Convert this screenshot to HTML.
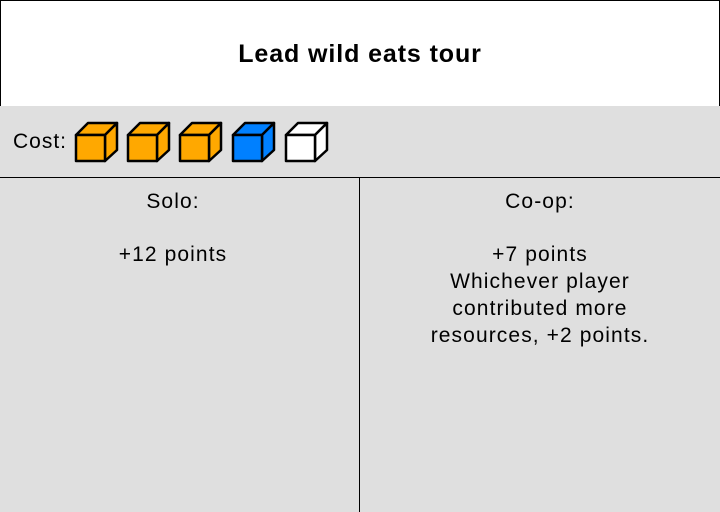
<!DOCTYPE html>
<html><head><meta charset="utf-8"><style>
body{margin:0;width:720px;height:512px;background:#dfdfdf;font-family:"Liberation Sans",sans-serif;position:relative;overflow:hidden;color:#000}
.title{position:absolute;left:0;top:0;width:718px;height:105px;background:#fff;border:1px solid #000;border-bottom:none;font-weight:bold;font-size:25px;letter-spacing:0.9px;text-align:center;line-height:106px}
.cost{position:absolute;left:13px;top:130px;font-size:21px;letter-spacing:1px}
.hline{position:absolute;left:0;top:177px;width:720px;height:1px;background:#000}
.vline{position:absolute;left:359px;top:177px;width:1px;height:335px;background:#000}
.col{position:absolute;top:189px;font-size:21px;letter-spacing:1.1px;text-align:center;line-height:26.7px}
</style></head><body>
<div class="title">Lead wild eats tour</div>
<div class="cost">Cost:</div>
<svg style="position:absolute;left:0;top:0" width="720" height="512">
<g stroke="#000" stroke-width="2.5" stroke-linejoin="round">
<g transform="translate(76,123)"><path d="M0,12 L12,0 L41,0 L29,12Z" fill="#ffa800"/><path d="M29,12 L41,0 L41,27 L29,38Z" fill="#ffa800"/><rect x="0" y="12" width="29" height="26" fill="#ffa800"/></g>
<g transform="translate(128,123)"><path d="M0,12 L12,0 L41,0 L29,12Z" fill="#ffa800"/><path d="M29,12 L41,0 L41,27 L29,38Z" fill="#ffa800"/><rect x="0" y="12" width="29" height="26" fill="#ffa800"/></g>
<g transform="translate(180,123)"><path d="M0,12 L12,0 L41,0 L29,12Z" fill="#ffa800"/><path d="M29,12 L41,0 L41,27 L29,38Z" fill="#ffa800"/><rect x="0" y="12" width="29" height="26" fill="#ffa800"/></g>
<g transform="translate(233,123)"><path d="M0,12 L12,0 L41,0 L29,12Z" fill="#0080ff"/><path d="M29,12 L41,0 L41,27 L29,38Z" fill="#0080ff"/><rect x="0" y="12" width="29" height="26" fill="#0080ff"/></g>
<g transform="translate(286,123)"><path d="M0,12 L12,0 L41,0 L29,12Z" fill="#fff"/><path d="M29,12 L41,0 L41,27 L29,38Z" fill="#fff"/><rect x="0" y="12" width="29" height="26" fill="#fff"/></g>
</g></svg>
<div class="hline"></div>
<div class="vline"></div>
<div class="col" style="left:0;width:346px">Solo:<br><br>+12 points</div>
<div class="col" style="left:360px;width:360px">Co-op:<br><br>+7 points<br>Whichever player<br>contributed more<br>resources, +2 points.</div>
</body></html>
